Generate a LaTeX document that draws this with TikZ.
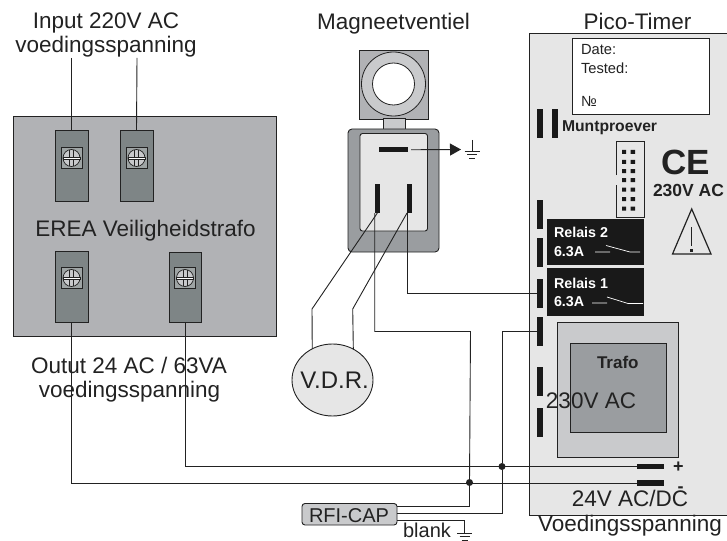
\documentclass[tikz,border=0pt]{standalone}
\usepackage{fontspec}
\setmainfont{Liberation Sans}
\usetikzlibrary{shapes.geometric,arrows.meta}
\definecolor{trafogrey}{HTML}{B1B2B5}
\definecolor{termgrey}{HTML}{7E8586}
\definecolor{panelgrey}{HTML}{E6E6E6}
\definecolor{midgrey}{HTML}{9A9DA0}
\definecolor{lightgrey}{HTML}{C9CACC}
\definecolor{ink}{HTML}{222222}
\tikzset{
  shapebox/.style={draw=ink,line width=.9pt,rectangle,inner sep=0pt,outer sep=0pt,anchor=north west},
  pinbar/.style={fill=black!90,rectangle,inner sep=0pt,outer sep=0pt,anchor=north west},
  wire/.style={draw=ink,line width=.9pt},
  junction/.style={circle,fill=ink,inner sep=0pt,minimum size=7pt},
  lbl/.style={anchor=base,inner sep=0pt,outer sep=0pt,text=ink,font=\fontsize{22.5}{27}\selectfont},
  bold/.style={anchor=base west,inner sep=0pt,outer sep=0pt,font=\fontsize{#1}{#1}\selectfont\bfseries},
  small/.style={anchor=base west,inner sep=0pt,outer sep=0pt,text=ink,font=\fontsize{14.7}{17}\selectfont},
}
% \pxbox[style]{name}{x1}{y1}{x2}{y2}
\newcommand{\pxbox}[6][]{%
  \pgfmathsetlengthmacro{\pxw}{(#5-#3)*1pt}%
  \pgfmathsetlengthmacro{\pxh}{(#6-#4)*1pt}%
  \node[minimum width=\pxw,minimum height=\pxh,#1] (#2) at (#3,#4) {};}
\newcommand{\screw}[2]{%
  \begin{scope}[shift={(#1,#2)}]
    \draw[ink,line width=.8pt,fill=termgrey!75!white] (-10.5,-10.5) rectangle (10.5,10.5);
    \draw[ink,line width=.7pt,fill=trafogrey!70!white] (0,0) circle (8.5);
    \draw[ink,line width=.4pt,fill=white] (-8.4,-1.2) rectangle (8.4,1.2);
    \draw[ink,line width=.4pt] (-2,-8) -- (-2,-1.2) (2,-8) -- (2,-1.2) (-2,8) -- (-2,1.2) (2,8) -- (2,1.2);
  \end{scope}}
\newcommand{\earth}[2]{%
  \draw[ink,line width=.8pt] (#1,#2-11) -- (#1,#2) (#1-7.5,#2) -- (#1+7.5,#2);
  \draw[ink,line width=.8pt] (#1-5,#2+3.5) -- (#1+5,#2+3.5) (#1-3,#2+7) -- (#1+3,#2+7);}
\begin{document}
\begin{tikzpicture}[x=1pt,y=-1pt]
\useasboundingbox (0,0) rectangle (727,540);
% safety transformer
\pxbox[shapebox,fill=trafogrey]{trafo}{13.5}{116}{276}{336}
\pxbox[shapebox,fill=termgrey]{tA}{55}{130}{88}{201}
\pxbox[shapebox,fill=termgrey]{tB}{120}{130}{153}{201}
\pxbox[shapebox,fill=termgrey]{tC}{55}{251}{88}{322}
\pxbox[shapebox,fill=termgrey]{tD}{169}{252}{201.5}{322}
\screw{71.5}{158}\screw{136.5}{158}\screw{71.5}{278}\screw{185}{278}
% valve
\pxbox[shapebox,fill=trafogrey]{coil}{359}{50}{428}{119}
\draw[ink,line width=.8pt,fill=lightgrey] (393.5,84) circle (32);
\draw[ink,line width=.8pt,fill=white] (393.5,84) circle (21);
\pxbox[shapebox,fill=lightgrey]{neck}{383}{118.5}{405}{129}
\pxbox[shapebox,fill=midgrey,rounded corners=4pt]{body}{348}{129}{439}{252}
\pxbox[shapebox,fill=panelgrey,rounded corners=2.5pt]{face}{360}{133.5}{427.5}{231}
\pxbox[pinbar]{pinE}{379}{147}{408}{152.5}
\pxbox[pinbar]{pinL}{374.7}{184}{380}{213}
\pxbox[pinbar]{pinR}{407}{184}{412.3}{213}
\coordinate (gndTip) at (461,149.5);
\draw[wire,-{Triangle[length=11pt,width=12pt]}] ([xshift=3pt]pinE.east) -- (gndTip);
\earth{472}{151}
% timer panel
\pxbox[shapebox,fill=panelgrey]{pico}{529.5}{33}{728}{515}
\pxbox[shapebox,fill=white]{stamp}{572.5}{38}{709}{114}
\pxbox[pinbar]{mA}{537}{109}{542.5}{138}
\pxbox[pinbar]{mB}{552}{109}{557.5}{138}
\pxbox[pinbar]{p1}{537}{200}{542.5}{229}
\pxbox[pinbar]{p2}{537}{238}{542.5}{267}
\pxbox[pinbar]{p3}{537}{279}{542.5}{308}
\pxbox[pinbar]{p4}{537}{317}{542.5}{346}
\pxbox[pinbar]{p5}{537}{367}{542.5}{396}
\pxbox[pinbar]{p6}{537}{408}{542.5}{437}
\pxbox[pinbar]{busP}{637}{464}{664}{469}
\pxbox[pinbar]{busM}{637}{480}{664}{486}
% ribbon connector
\draw[ink,line width=.8pt] (616,175) -- (616,141) -- (644,141) -- (644,217) -- (616,217) -- (616,185);
\foreach \ry in {152,162,171,180,189.5,199,208.5}{
  \fill[black!90] (622,\ry-2) rectangle (626,\ry+2) (630.5,\ry-2) rectangle (635,\ry+2);}
% relays
\pxbox[pinbar]{relB}{547}{219}{644}{265}
\pxbox[pinbar]{relA}{547}{268}{644}{316}
\draw[white,line width=.7pt] (595,252) -- (610,252) (606,245.5) -- (630,252) -- (640,252);
\draw[white,line width=.7pt] (592,303) -- (607,303) (607,297) -- (628,303.5) -- (643,303.5);
% timer transformer
\pxbox[shapebox,fill=lightgrey]{tfOut}{557.5}{322}{678.5}{457}
\pxbox[shapebox,fill=midgrey]{tfIn}{570}{343}{666}{432.5}
% warning triangle
\draw[ink,line width=1.2pt,line join=miter] (691.7,209) -- (711,254) -- (672.5,254) -- cycle;
\draw[ink,line width=1.2pt] (691.7,227) -- (691.7,246);
\fill[ink] (690.2,248.5) rectangle (693.2,251.5);
% VDR and RFI
\node[ellipse,draw=ink,line width=.9pt,fill=panelgrey,minimum width=81pt,minimum height=72pt,inner sep=0pt,outer sep=0pt] (vdr) at (332.5,380) {};
\pxbox[shapebox,fill=lightgrey,rounded corners=3pt]{rfi}{302}{503.5}{397}{525}
% junctions and free wire ends
\coordinate (inA) at (71.5,58);
\coordinate (inB) at (137,58);
\coordinate (bendL) at (312,309);
\coordinate (bendR) at (352.7,309);
\node[junction] (jM) at (469.5,482.5) {};
\node[junction] (jP) at (502,466.5) {};
\coordinate (rfiA) at (397,506.5);
\coordinate (rfiB) at (397,513);
\coordinate (rfiC) at (397,520);
\coordinate (gndB) at (464.5,533);
% wires
\draw[wire] (inA) -- (tA.north);
\draw[wire] (inB) -- (tB.north);
\draw[wire] (tC.south) |- (busM.west);
\draw[wire] (tD.south) |- (busP.west);
\draw[wire] (pinL.south) -- (bendL) -- (vdr.123.5);
\draw[wire] (pinR.south west) -- (bendR) -- (vdr.56);
\draw[wire] (pinL.south west) |- (470.5,331.5) -- (jM);
\draw[wire] (pinR.south west) |- (p3.west);
\draw[wire] (p4.west) -| (jP);
\draw[wire] (rfiA) -| (jM);
\draw[wire] (rfiB) -| (jP);
\draw[wire] (rfiC) -| (gndB);
\earth{464.5}{533}
% labels
\node[lbl] (tInA) at (106,29) {Input 220V AC};
\node[lbl] (tInB) at (106,53) {voedingsspanning};
\node[lbl] (tVen) at (393.5,30) {Magneetventiel};
\node[lbl] (tPico) at (637.5,30) {Pico-Timer};
\node[lbl] (tErea) at (145.5,236.5) {EREA Veiligheidstrafo};
\node[lbl] (tOutA) at (129,373) {Outut 24 AC / 63VA};
\node[lbl] (tOutB) at (129.5,397) {voedingsspanning};
\node[lbl,font=\fontsize{24}{28}\selectfont] (tVdr) at (334.5,388) {V.D.R.};
\node[lbl,font=\fontsize{20}{24}\selectfont] (tRfi) at (349,522) {RFI-CAP};
\node[lbl,font=\fontsize{20}{24}\selectfont] (tBlank) at (427,537) {blank};
\node[lbl] (tVolt) at (630,506.5) {24V AC/DC};
\node[lbl] (tVoed) at (630,531) {Voedingsspanning};
\node[lbl] (tTf) at (591,408) {230V AC};
\node[small] (tDate) at (581,55) {Date:};
\node[small] (tTest) at (581,74) {Tested:};
\node[small] (tNo) at (581,107) {№};
\node[bold=15.7,text=ink] (tMunt) at (562,131.7) {Muntproever};
\node[bold=35,text=ink] (tCE) at (661,175) {CE};
\node[bold=17.5,text=ink] (tAc) at (653,196.7) {230V AC};
\node[bold=17,text=ink] (tTrafo) at (597,368) {Trafo};
\node[bold=14.3,text=white] (tR2) at (554,237.7) {Relais 2};
\node[bold=14.3,text=white] (tR2a) at (554,256) {6.3A};
\node[bold=14.3,text=white] (tR1) at (554,288) {Relais 1};
\node[bold=14.3,text=white] (tR1a) at (554,306.7) {6.3A};
\node[bold=18,text=ink] (tPlus) at (673,472) {+};
\node[bold=18,text=ink] (tMinus) at (677.5,492) {-};
\end{tikzpicture}
\end{document}
